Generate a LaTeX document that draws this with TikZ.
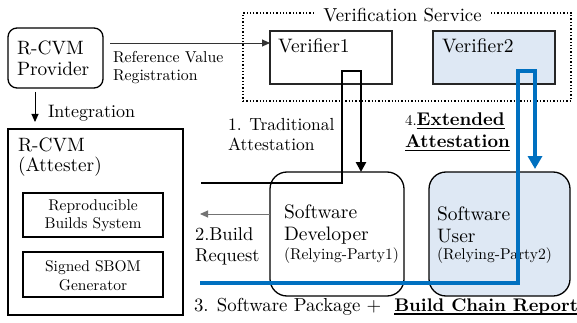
\documentclass[tikz,border=0pt]{standalone}
\usepackage{fontspec}
\setmainfont{lmroman10-regular.otf}[BoldFont=lmroman10-bold.otf]
\usetikzlibrary{arrows.meta}
\definecolor{flowblue}{HTML}{0070C0}
\definecolor{paleblue}{HTML}{DEE8F4}
\newcommand{\fs}[2]{\fontsize{#1}{#2}\selectfont}
\newsavebox{\ulbox}
% bold text with a heavy rule below the baseline
\newcommand{\boldul}[1]{\sbox{\ulbox}{\textbf{#1}}\rlap{\rule[-3pt]{\wd\ulbox}{1.3pt}}\usebox{\ulbox}}
\begin{document}
\begin{tikzpicture}[x=1pt,y=-1pt,
  every node/.style={inner sep=0pt,outer sep=0pt},
  frame/.style={draw,line width=1.3pt},
  rbox/.style={frame,rounded corners=9pt},
  softbox/.style={frame,rounded corners=17pt},
  lbl/.style={anchor=west,align=left},
  ctr/.style={align=center},
  thinarrow/.style={line width=0.9pt,-{Triangle[width=7pt,length=8pt]}},
  blackflow/.style={line width=2.6pt,-{Triangle[width=10pt,length=10pt]}},
  blueflow/.style={draw=flowblue,line width=4pt,-{Triangle[width=14pt,length=13pt]},flowblue}]
\useasboundingbox (0,0) rectangle (577,323);

% verification service group
\node[draw,dotted,line width=1.3pt,minimum width=328pt,minimum height=88pt] (vs) at (407,57) {};
\node[fill=white,inner xsep=7pt,inner ysep=2pt,font=\fs{18.8}{21}] (vstitle) at (402.5,15) {Verification Service};
\node[draw=black!85,line width=1.2pt,minimum width=122pt,minimum height=53pt] (ver1) at (331,57.5) {};
\node[draw=black!85,line width=1.2pt,fill=paleblue,minimum width=122pt,minimum height=53pt] (ver2) at (494,57.5) {};
\node[lbl,font=\fs{19.5}{21}] (ver1txt) at (278,46) {Verifier1};
\node[lbl,font=\fs{19.5}{21}] (ver2txt) at (442,46) {Verifier2};

% provider and attester
\node[rbox,minimum width=95pt,minimum height=60pt,text width=77pt,inner xsep=9pt,
      align=left,font=\fs{19.3}{21}] (prov) at (55.5,58) {R-CVM\\Provider};
\node[frame,minimum width=175pt,minimum height=186pt] (att) at (95.5,222) {};
\node[lbl,font=\fs{19.3}{20}] (atttxt) at (18,157) {R-CVM\\(Attester)};
\node[frame,minimum width=140pt,minimum height=44pt] (rbs) at (93,215) {};
\node[ctr,font=\fs{15.5}{18}] (rbstxt) at (93,216) {Reproducible\\Builds System};
\node[frame,minimum width=140pt,minimum height=45pt] (sbom) at (93,274.5) {};
\node[ctr,font=\fs{15.5}{19}] (sbomtxt) at (93,275.5) {Signed SBOM\\Generator};

% relying parties
\node[softbox,minimum width=134pt,minimum height=124pt] (dev) at (337,234) {};
\node[softbox,fill=paleblue,minimum width=141pt,minimum height=124pt] (user) at (499.5,234) {};
\node[lbl,font=\fs{19.5}{22}] (devtxt) at (284,225) {Software\\Developer};
\node[lbl,font=\fs{15.6}{16}] (devrp) at (284,256) {(Relying-Party1)};
\node[lbl,font=\fs{19.5}{22}] (usertxt) at (437,225) {Software\\User};
\node[lbl,font=\fs{15.6}{16}] (userrp) at (437,256) {(Relying-Party2)};

% thin arrows
\draw[thinarrow,black!80,shorten <=7pt] ([yshift=15pt]prov.east) -- ([yshift=14.5pt]ver1.west);
\node[lbl,font=\fs{15.8}{18}] (reftxt) at (113,68) {Reference Value\\Registration};
\draw[thinarrow,shorten <=4pt,shorten >=7pt] ([xshift=-20.5pt]prov.south) -- ([xshift=-60.5pt]att.north);
\node[lbl,font=\fs{18}{20}] (inttxt) at (48,113) {Integration};
\coordinate (breq) at (200,214);
\draw[thinarrow,black!55] ([yshift=20pt]dev.west) -- (breq);
\node[lbl,font=\fs{18.5}{21}] (breqtxt) at (195,246) {2.Build\\Request};

% traditional attestation loop
\coordinate (attout) at (201,183);
\coordinate (v1l) at (342,71);
\coordinate (v1r) at (361,71);
\draw[blackflow] (attout) -| (v1l) -- (v1r) -- (v1r |- dev.north);
\node[lbl,font=\fs{17.5}{20}] (tradtxt) at (228,135) {1. Traditional\\Attestation};

% extended attestation loop
\coordinate (pkgout) at (200,283);
\coordinate (v2l) at (518,71);
\coordinate (v2r) at (535,71);
\draw[blueflow] (pkgout) -| (v2l) -- (v2r) -- ([yshift=3pt]v2r |- user.north);
\node[lbl,font=\fs{18.4}{22}] (exttxt) at (405,132) {{\fs{15}{18}4.}\boldul{Extended}\\\boldul{Attestation}};

% delivered artefacts
\node[lbl,font=\fs{18.8}{20}] (pkgtxt) at (194,307) {3. Software Package +\hspace{13pt}{\fs{18.3}{20}\boldul{Build Chain Report}}};
\end{tikzpicture}
\end{document}
